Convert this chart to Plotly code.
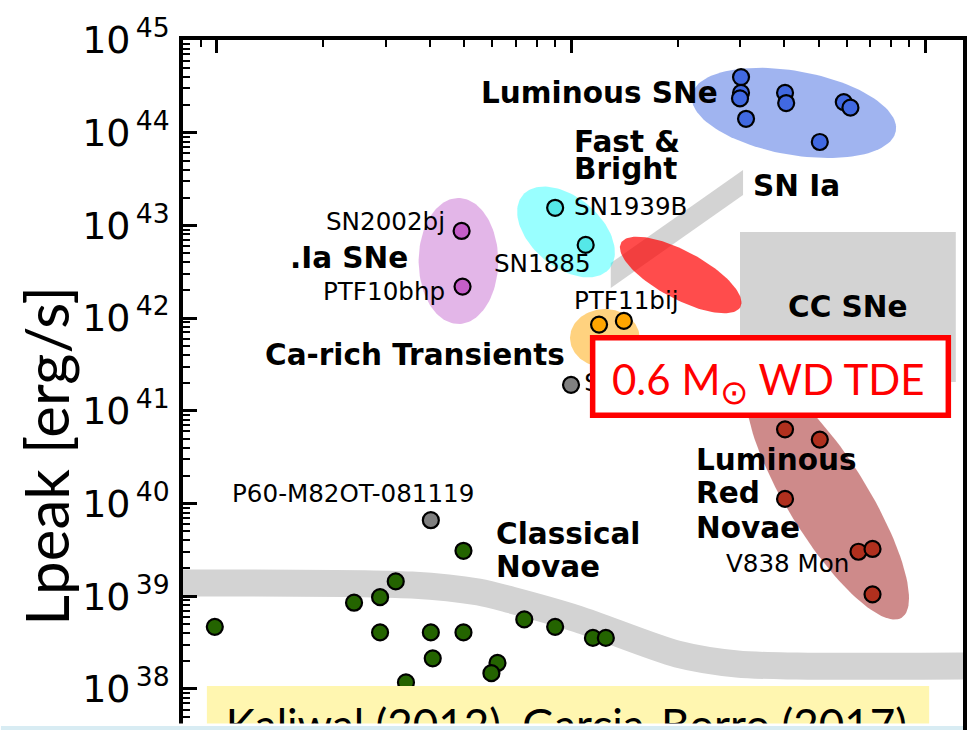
import numpy as np
import plotly.graph_objects as go

# ---------------- data: characteristic timescale [days], log10 peak luminosity [erg/s] -------------
lum_sne_t    = [30.2, 30.2, 30.0, 31.2, 40.2, 40.5, 58.9, 61.5, 50.4]
lum_sne_logL = [44.60, 44.43, 44.37, 44.15, 44.43, 44.32, 44.33, 44.27, 43.90]

fast_t    = [9.02, 11.0]
fast_logL = [43.19, 42.79]

dotia_t    = [4.91, 4.94]
dotia_logL = [42.94, 42.34]

carich_t    = [12.0, 14.1]
carich_logL = [41.93, 41.97]

other_t    = [10.0, 4.02]
other_logL = [41.28, 39.82]

lrn_t    = [40.2, 50.4, 40.2, 64.8, 71.0, 71.0]
lrn_logL = [40.80, 40.69, 40.05, 39.48, 39.51, 39.02]

novae_t    = [0.987, 2.44, 2.89, 3.20, 2.89, 4.02, 4.97, 4.97, 4.07, 3.42, 6.20, 5.96, 7.38, 9.02, 11.53, 12.54]
novae_logL = [38.67, 38.93, 38.99, 39.16, 38.61, 38.61, 38.61, 39.49, 38.33, 38.07, 38.28, 38.17, 38.75, 38.67, 38.55, 38.55]

# classical-novae luminosity band (centre line)
novae_band_t    = [0.6, 3.55, 5.48, 6.78, 10.46, 19.98, 29.45, 43.4, 150.0]
novae_band_logL = [39.142, 39.121, 39.045, 38.959, 38.754, 38.376, 38.269, 38.247, 38.247]

# SN Ia width-luminosity strip
snia_band_t    = [12.95, 30.6, 30.6, 12.95]
snia_band_logL = [42.594, 43.598, 43.328, 42.325]

# core-collapse SNe box
ccsne_t    = [30.0, 122.0]
ccsne_logL = [41.31, 42.93]

y_tick_exp = [38, 39, 40, 41, 42, 43, 44, 45]

# ---------------- layout geometry ----------------
W, H = 967, 730
ML, MR, MT, MB = 183, 0, 40, 0
XR = [-0.0955, 2.1067]      # log10 days
YR = [37.557, 45.0]         # log10 erg/s
PXX = (W - ML - MR) / (XR[1] - XR[0])
PXY = (H - MT - MB) / (YR[1] - YR[0])

# region ellipses: centre (days, logL), semi-axes in screen px, angle in deg
regions = [
    dict(c=(42.6, 44.213), a=104, b=42, ang=-10, color="rgba(65,105,225,0.5)"),
    dict(c=(9.68, 42.929), a=57, b=35, ang=-40, color="rgba(0,255,255,0.4)"),
    dict(c=(4.81, 42.616), a=40, b=63, ang=0, color="rgba(200,110,210,0.5)"),
    dict(c=(12.46, 41.785), a=35, b=29, ang=0, color="rgba(255,165,0,0.5)"),
    dict(c=(20.4, 42.465), a=68, b=24, ang=-28, color="rgba(255,0,0,0.7)"),
    dict(c=(53.1, 40.049), a=140, b=40, ang=-58, color="rgba(165,42,42,0.55)"),
]


def ellipse(c, a, b, ang):
    th = np.linspace(0, 2 * np.pi, 120)
    u, v = a * np.cos(th), b * np.sin(th)
    A = np.deg2rad(ang)
    dx = u * np.cos(A) - v * np.sin(A)
    dy = u * np.sin(A) + v * np.cos(A)
    return 10 ** (np.log10(c[0]) + dx / PXX), 10 ** (c[1] + dy / PXY)


def px2data(px, py):
    return 10 ** (XR[0] + (px - ML) / PXX), 10 ** (YR[1] - (py - MT) / PXY)


def px2paper(px, py):
    return (px - ML) / (W - ML - MR), (H - MB - py) / (H - MT - MB)


fig = go.Figure()
LG = "#d3d3d3"

fig.add_trace(go.Scatter(x=novae_band_t, y=10 ** np.array(novae_band_logL), mode="lines",
                         line=dict(color=LG, width=27, shape="spline", smoothing=0.8),
                         hoverinfo="skip"))
fig.add_trace(go.Scatter(x=snia_band_t, y=10 ** np.array(snia_band_logL), mode="lines",
                         fill="toself", fillcolor=LG, line=dict(width=0), hoverinfo="skip"))
fig.add_trace(go.Scatter(x=[ccsne_t[0], ccsne_t[1], ccsne_t[1], ccsne_t[0]],
                         y=10 ** np.array([ccsne_logL[0], ccsne_logL[0], ccsne_logL[1], ccsne_logL[1]]),
                         mode="lines", fill="toself", fillcolor=LG, line=dict(width=0),
                         hoverinfo="skip"))
for r in regions:
    ex, ey = ellipse(r["c"], r["a"], r["b"], r["ang"])
    fig.add_trace(go.Scatter(x=ex, y=ey, mode="lines", fill="toself", fillcolor=r["color"],
                             line=dict(width=0), hoverinfo="skip"))


def pts(t, logL, color):
    fig.add_trace(go.Scatter(x=t, y=10 ** np.array(logL), mode="markers",
                             marker=dict(size=16, color=color, line=dict(color="black", width=2.2))))


pts(lum_sne_t, lum_sne_logL, "#4169e1")
pts(fast_t, fast_logL, "#55e8e8")
pts(dotia_t, dotia_logL, "#c45ec8")
pts(carich_t, carich_logL, "#ffa500")
pts(other_t, other_logL, "#808080")
pts(lrn_t, lrn_logL, "#b0301e")
pts(novae_t, novae_logL, "#246400")

# label hidden under the TDE box (drawn as trace so the box covers it)
fig.add_trace(go.Scatter(x=[10.9], y=[10 ** 41.278], mode="text", text=["SN2005E"],
                         textposition="middle right", cliponaxis=False,
                         textfont=dict(family="DejaVu Sans", size=24.6, color="black")))

# yellow reference box (slide overlay) + its text, under the bottom slide strip
bx0, by0 = px2data(207, 760)
bx1, by1 = px2data(933, 686)
fig.add_trace(go.Scatter(x=[bx0, bx1, bx1, bx0], y=[by0, by0, by1, by1], mode="lines",
                         fill="toself", fillcolor="#fff6b0", line=dict(width=0),
                         hoverinfo="skip"))
tx, ty = px2data(226, 730)
fig.add_trace(go.Scatter(x=[tx], y=[ty], mode="text",
                         text=["Kaliwal (2012), Garcia-Borro (2017)"],
                         textposition="middle right", cliponaxis=False,
                         textfont=dict(family="Lato", size=44, color="black")))

# ---------------- labels ----------------
BOLD, NORM = 29.5, 24.6
labels = [
    ("Luminous SNe", 5.55, 44.428, "left", True),
    ("Fast &", 10.1, 43.900, "left", True),
    ("Bright", 10.1, 43.608, "left", True),
    ("SN1939B", 10.1, 43.199, "left", False),
    ("SN Ia", 32.5, 43.425, "left", True),
    ("SN2002bj", 4.43, 43.037, "right", False),
    (".Ia SNe", 3.48, 42.648, "right", True),
    ("PTF10bhp", 4.45, 42.282, "right", False),
    ("SN1885", 6.04, 42.594, "left", False),
    ("PTF11bij", 10.1, 42.195, "left", False),
    ("CC SNe", 40.7, 42.120, "left", True),
    ("Ca-rich Transients", 9.68, 41.602, "right", True),
    ("P60-M82OT-081119", 1.10, 40.113, "left", False),
    ("Classical", 6.12, 39.671, "left", True),
    ("Novae", 6.12, 39.315, "left", True),
    ("Luminous", 22.4, 40.469, "left", True),
    ("Red", 22.4, 40.113, "left", True),
    ("Novae", 22.4, 39.736, "left", True),
    ("V838 Mon", 27.2, 39.358, "left", False),
]
for txt, t, lg, anc, bold in labels:
    fig.add_annotation(x=np.log10(t), y=lg, xref="x", yref="y", showarrow=False,
                       text=f"<b>{txt}</b>" if bold else txt, xanchor=anc, yanchor="middle",
                       borderpad=0,
                       font=dict(family="DejaVu Sans", size=BOLD if bold else NORM, color="black"))

# red TDE box
x0, y0 = px2paper(594.75, 415.25)
x1, y1 = px2paper(952.25, 337.75)
fig.add_shape(type="rect", xref="paper", yref="paper", x0=x0, x1=x1, y0=y0, y1=y1,
              line=dict(color="#ff0000", width=5.5), fillcolor="white", layer="above")
tx, ty = px2paper(771, 382)
fig.add_annotation(x=tx, y=ty, xref="paper", yref="paper", showarrow=False,
                   text="0.6 M<sub><span style='font-size:34px'>⊙</span></sub> WD TDE",
                   xanchor="center", yanchor="middle",
                   font=dict(family="Lato", size=42, color="#ff0000"))

# slide strip at the bottom
x0, y0 = px2paper(0, 726)
x1, y1 = px2paper(W, 723.5)
fig.add_shape(type="rect", xref="paper", yref="paper", x0=x0, x1=x1, y0=y0, y1=y1,
              line=dict(width=0), fillcolor="white", layer="above")
x0, y0 = px2paper(0, 740)
x1, y1 = px2paper(W, 726)
fig.add_shape(type="rect", xref="paper", yref="paper", x0=x0, x1=x1, y0=y0, y1=y1,
              line=dict(width=0), fillcolor="#d8ecf3", layer="above")

# y-axis title
tx, ty = px2paper(45, 456)
fig.add_annotation(x=tx, y=ty, xref="paper", yref="paper", showarrow=False,
                   text="Lpeak [erg/s]", textangle=-90, xanchor="center", yanchor="middle",
                   font=dict(family="Lato", size=60, color="black"))

fig.update_layout(
    width=W, height=H, margin=dict(l=ML, r=MR, t=MT, b=MB, pad=0),
    paper_bgcolor="white", plot_bgcolor="white", showlegend=False,
    xaxis=dict(type="log", range=XR, side="top", showgrid=False, zeroline=False,
               showline=True, linecolor="black", linewidth=3.5, mirror=False,
               ticks="inside", ticklen=13, tickwidth=2.5, tickcolor="black", dtick=1,
               showticklabels=False,
               minor=dict(ticks="inside", ticklen=7, tickwidth=2, tickcolor="black",
                          dtick="D1", showgrid=False)),
    yaxis=dict(type="log", range=YR, showgrid=False, zeroline=False, showline=True,
               linecolor="black", linewidth=3.5, mirror=True, ticks="inside", ticklen=14,
               tickwidth=2.5, tickcolor="black", tickmode="array",
               tickvals=[10.0 ** e for e in y_tick_exp],
               ticktext=[f"10<sup>\u2009{e}</sup>" for e in y_tick_exp],
               ticklabelstandoff=2,
               tickfont=dict(family="DejaVu Sans", size=38, color="black"),
               minor=dict(ticks="inside", ticklen=7, tickwidth=2, tickcolor="black",
                          dtick="D1", showgrid=False)),
)

fig.write_html("out.html")
